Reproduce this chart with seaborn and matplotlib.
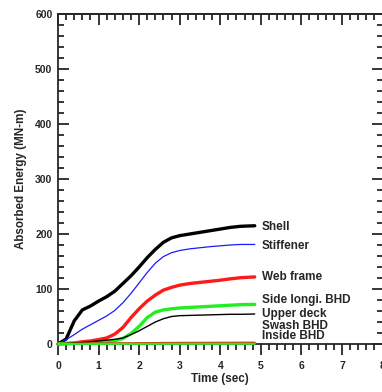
import matplotlib
matplotlib.use('Agg')
import matplotlib.pyplot as plt
import seaborn as sns
import pandas as pd
from matplotlib.ticker import MultipleLocator

# ============================================
# DATA
# ============================================
time_sec = [0, 0.2, 0.4, 0.6, 0.8, 1.0, 1.2, 1.4, 1.6, 1.8, 2.0, 2.2, 2.4,
            2.6, 2.8, 3.0, 3.25, 3.5, 3.75, 4.0, 4.25, 4.5, 4.85]

shell = [0, 9, 42, 62, 69, 78, 86, 96, 110, 124, 140, 157, 172,
         185, 193, 197, 200, 203, 206, 209, 212, 214, 215]
stiffener = [0, 8, 17, 27, 35, 43, 51, 61, 75, 92, 111, 130, 147,
             159, 166, 170, 173, 175, 177, 178.5, 180, 181, 181]
web_frame = [0, 1, 2, 4, 5.5, 8, 11, 18, 30, 48, 64, 78, 89,
             98, 103, 107, 110, 112, 114, 116, 118.5, 120.5, 122]
side_longi = [0, 0.5, 1, 1.5, 2, 2.5, 3.5, 6, 10, 19, 32, 48, 58,
              62, 64, 65.5, 66.5, 67.5, 68.5, 69.5, 70.5, 71.5, 72]
upper_deck = [0, 1, 2, 3, 4, 5.5, 7, 8.5, 11, 17, 24, 32, 40,
              46, 50, 51.5, 52, 52.5, 53, 53.5, 54, 54, 54.5]
swash_bhd = [0, 0.3, 0.5, 0.7, 0.9, 1.0, 1.1, 1.2, 1.3, 1.4, 1.5, 1.6, 1.7,
             1.8, 1.9, 2.0, 2.0, 2.1, 2.1, 2.2, 2.2, 2.3, 2.3]
inside_bhd = [0, 0.1, 0.1, 0.1, 0.2, 0.2, 0.2, 0.2, 0.3, 0.3, 0.3, 0.3, 0.3,
              0.3, 0.3, 0.4, 0.4, 0.4, 0.4, 0.4, 0.4, 0.4, 0.4]

series_names = ['Shell', 'Stiffener', 'Web frame', 'Side longi. BHD',
                'Upper deck', 'Swash BHD', 'Inside BHD']
series_values = [shell, stiffener, web_frame, side_longi,
                 upper_deck, swash_bhd, inside_bhd]
label_y = [213, 179, 121, 80, 54.5, 33, 14.5]

# ============================================
# STYLE
# ============================================
sns.set_style("ticks")
plt.rcParams['font.family'] = ['Liberation Sans', 'DejaVu Sans']
plt.rcParams['font.weight'] = 'bold'

line_colors = ['black', '#1a1aff', '#ff1a1a', '#22ee22', 'black', '#ff1a1a', '#22ee22']
line_widths = [2.4, 0.9, 2.4, 2.4, 1.0, 1.6, 1.6]

df = pd.DataFrame({'time': time_sec})
for name, vals in zip(series_names, series_values):
    df[name] = vals

fig = plt.figure(figsize=(3.82, 3.92), dpi=100)
ax = fig.add_axes([58 / 382, 48 / 392, 324.5 / 382, 330 / 392])

for name, color, lw in zip(series_names, line_colors, line_widths):
    sns.lineplot(data=df, x='time', y=name, ax=ax, color=color,
                 linewidth=lw, clip_on=False, zorder=3)

for name, y in zip(series_names, label_y):
    ax.text(5.02, y, name, fontsize=8.5, fontweight='bold',
            ha='left', va='center')

ax.set_xlim(0, 8)
ax.set_ylim(0, 600)
ax.xaxis.set_major_locator(MultipleLocator(1))
ax.xaxis.set_minor_locator(MultipleLocator(0.2))
ax.yaxis.set_major_locator(MultipleLocator(100))
ax.yaxis.set_minor_locator(MultipleLocator(20))

ax.set_xlabel('Time (sec)', fontsize=8.4, fontweight='bold', labelpad=2)
ax.set_ylabel('Absorbed Energy (MN-m)', fontsize=8.4, fontweight='bold', labelpad=6)

for sp in ax.spines.values():
    sp.set_linewidth(1.3)
    sp.set_visible(True)

# bottom ticks point outward, the other sides inward
ax.tick_params(axis='x', which='both', direction='out', bottom=True, top=False,
               labelsize=7.5, pad=4, width=1.3)
ax.tick_params(axis='y', which='both', direction='in', left=True, right=True,
               labelsize=7.5, pad=4, width=1.3)
ax.tick_params(which='major', length=8)
ax.tick_params(which='minor', length=4)

top = ax.secondary_xaxis('top')
top.xaxis.set_major_locator(MultipleLocator(1))
top.xaxis.set_minor_locator(MultipleLocator(0.2))
top.tick_params(which='both', direction='in', labeltop=False, width=1.3)
top.tick_params(which='major', length=8)
top.tick_params(which='minor', length=4)
top.spines['top'].set_linewidth(1.3)

for lbl in ax.get_xticklabels() + ax.get_yticklabels():
    lbl.set_fontweight('bold')

fig.savefig('out.png', dpi=100, facecolor='white')
